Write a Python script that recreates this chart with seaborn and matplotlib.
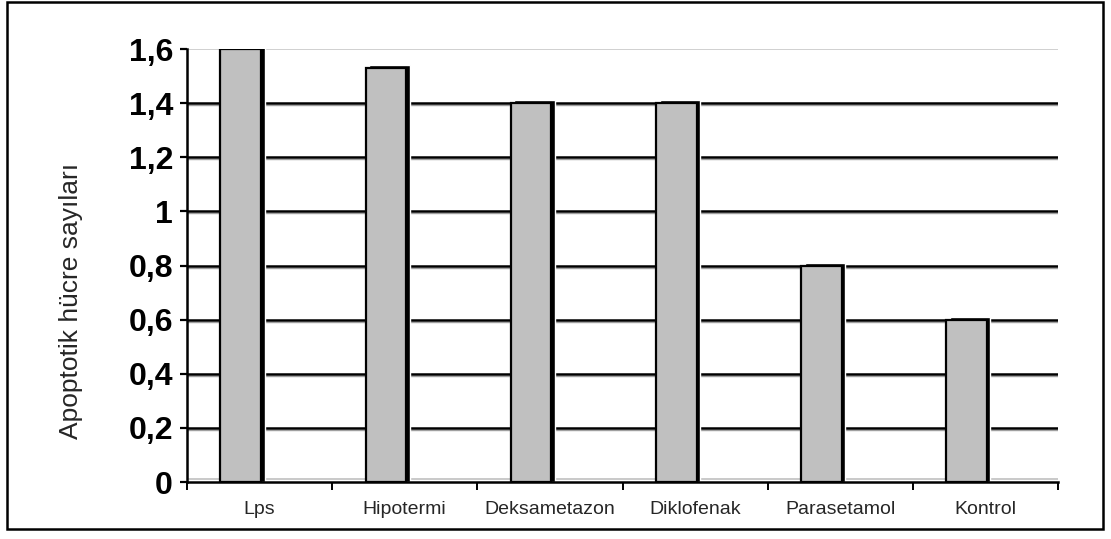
import matplotlib
matplotlib.use("Agg")
import matplotlib.pyplot as plt
from matplotlib.patches import Rectangle
from matplotlib.ticker import FuncFormatter, FixedLocator
import seaborn as sns
import pandas as pd

categories = ["Lps", "Hipotermi", "Deksametazon", "Diklofenak", "Parasetamol", "Kontrol"]
values = [1.6, 1.53, 1.4, 1.4, 0.8, 0.6]
y_ticks = [0, 0.2, 0.4, 0.6, 0.8, 1.0, 1.2, 1.4, 1.6]
y_label = "Apoptotik hücre sayıları"

sns.set_style("white")
plt.rcParams["font.family"] = ["Liberation Sans", "DejaVu Sans"]

df = pd.DataFrame({"grup": categories, "deger": values})

fig = plt.figure(figsize=(11.11, 5.39), dpi=100)
ax = fig.add_axes([187 / 1111, 1 - 482 / 539, 871 / 1111, 433 / 539])

bar_w = 0.28
shift = -0.13

# shadow bars (black), then the grey bars on top
sns.barplot(data=df, x="grup", y="deger", color="black", width=bar_w,
            saturation=1, ax=ax)
sns.barplot(data=df, x="grup", y="deger", color="#c0c0c0", width=bar_w,
            saturation=1, edgecolor="black", linewidth=1.6, ax=ax)

n = len(categories)
for i, p in enumerate(ax.patches):
    p.set_x(p.get_x() + shift)
    if i < n:
        p.set_x(p.get_x() + 0.025)
        p.set_height(p.get_height() + 0.011)
        p.set_zorder(3)
    else:
        p.set_zorder(4)

ax.set_xlim(-0.5, n - 0.5)
ax.set_ylim(0, 1.6)

# grid lines with a grey line just below each
px = 1.6 / 433
for yv in y_ticks[1:-1]:
    ax.axhline(yv, color="black", lw=1.8, zorder=2)
    ax.axhline(yv - 2 * px, color="#a0a0a0", lw=1.0, zorder=1)
ax.axhline(1.6, color="#c8c8c8", lw=1.2, zorder=1)
ax.axhline(3 * px, color="#c0c0c0", lw=1.2, zorder=1)

for s in ["top", "right"]:
    ax.spines[s].set_visible(False)
for s in ["left", "bottom"]:
    ax.spines[s].set_color("black")
    ax.spines[s].set_linewidth(1.8)
    ax.spines[s].set_zorder(5)

ax.yaxis.set_major_locator(FixedLocator(y_ticks))
ax.yaxis.set_major_formatter(FuncFormatter(lambda v, pos: f"{v:g}".replace(".", ",")))
ax.tick_params(axis="y", left=True, direction="out", length=5, width=1.6,
               labelsize=23, pad=5, colors="black")
for t in ax.get_yticklabels():
    t.set_fontweight("bold")

ax.set_xticks(range(n))
ax.set_xticklabels(categories)
ax.set_xticks([i - 0.5 for i in range(n + 1)], minor=True)
ax.tick_params(axis="x", which="major", bottom=False, labelsize=14, pad=10)
ax.tick_params(axis="x", which="minor", bottom=True, direction="out",
               length=6, width=1.4, color="black")

ax.set_xlabel("")
ax.set_ylabel(y_label, fontsize=19)
ax.yaxis.set_label_coords(-0.119, 0.418)

fig.patches.append(Rectangle((7 / 1111, 1 - 529 / 539), 1096 / 1111, 527 / 539,
                             transform=fig.transFigure, fill=False,
                             edgecolor="black", linewidth=1.8))

fig.savefig("out.png", dpi=100)
